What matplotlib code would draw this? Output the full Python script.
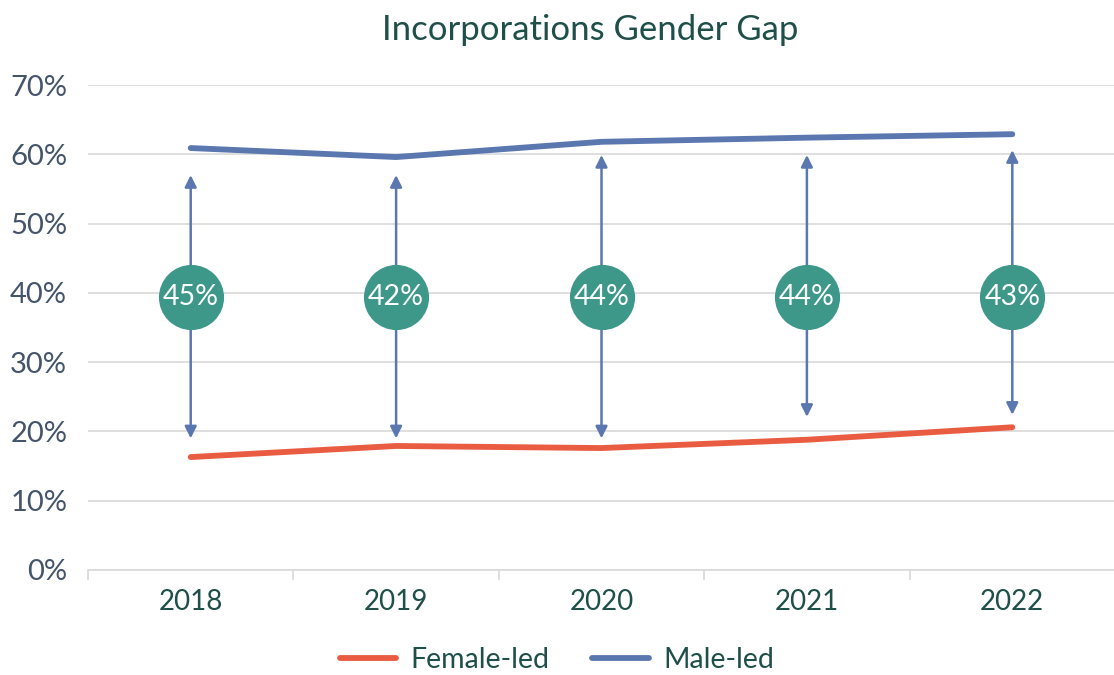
import matplotlib
matplotlib.use("Agg")
import matplotlib.pyplot as plt

# Data
years = ["2018", "2019", "2020", "2021", "2022"]
female_led = [16.3, 17.9, 17.6, 18.8, 20.6]
male_led = [60.9, 59.6, 61.8, 62.4, 62.9]
gap_labels = ["45%", "42%", "44%", "44%", "43%"]
arrow_top = [57.0, 57.0, 59.9, 59.9, 60.6]
arrow_bottom = [19.0, 19.0, 19.0, 22.1, 22.4]
bubble_level = 39.4
y_ticks = [0, 10, 20, 30, 40, 50, 60, 70]

male_color = "#5b77b0"
female_color = "#e95c42"
bubble_color = "#3e988a"
text_green = "#1f4f49"
tick_gray = "#44546a"

plt.rcParams['font.family'] = ['Lato', 'DejaVu Sans']

fig = plt.figure(figsize=(11.14, 6.75), dpi=100)
ax = fig.add_axes([88 / 1114, 105 / 675, 1027 / 1114, 485 / 675])

x = list(range(len(years)))

# Lines
ax.plot(x, female_led, color=female_color, lw=4.2, solid_capstyle='round', label='Female-led', zorder=3)
ax.plot(x, male_led, color=male_color, lw=4.2, solid_capstyle='round', label='Male-led', zorder=3)

# Gap arrows and bubbles
for i in x:
    ax.annotate("", xy=(i, arrow_top[i]), xytext=(i, arrow_bottom[i]),
                arrowprops=dict(arrowstyle='<|-|>,head_length=0.7,head_width=0.35',
                                color=male_color, lw=1.8, shrinkA=0, shrinkB=0),
                zorder=2)
ax.scatter(x, [bubble_level] * len(x), s=2200, color=bubble_color, zorder=4, linewidths=0)
for i in x:
    ax.text(i, bubble_level, gap_labels[i], ha='center', va='center', color='white',
            fontsize=20.5, zorder=5)

# Axes styling
ax.set_xlim(-0.5, len(years) - 0.5)
ax.set_ylim(0, 70)
ax.set_yticks(y_ticks)
ax.set_yticklabels([f"{v}%" for v in y_ticks])
ax.set_xticks(x)
ax.set_xticklabels(years)
ax.set_xticks([i - 0.5 for i in range(len(years) + 1)], minor=True)
ax.tick_params(axis='x', which='major', length=0, pad=14, labelsize=20, labelcolor=text_green)
ax.tick_params(axis='x', which='minor', length=7, width=1.2, color='#d9d9d9')
ax.tick_params(axis='y', length=0, pad=15, labelsize=21, labelcolor=tick_gray)
ax.grid(axis='y', color='#d9d9d9', lw=1.2)
ax.set_axisbelow(True)
for side in ['top', 'right', 'left']:
    ax.spines[side].set_visible(False)
ax.spines['bottom'].set_color('#d9d9d9')
ax.spines['bottom'].set_linewidth(1.2)

fig.text(0.53, 0.956, "Incorporations Gender Gap", ha='center', va='center',
         fontsize=25, color=text_green)

fig.legend(loc='center', bbox_to_anchor=(0.5, 0.022), ncol=2, frameon=False,
           fontsize=20.5, labelcolor=text_green, handlelength=2.0, columnspacing=1.5,
           handletextpad=0.5)

fig.savefig("out.png", dpi=100)
